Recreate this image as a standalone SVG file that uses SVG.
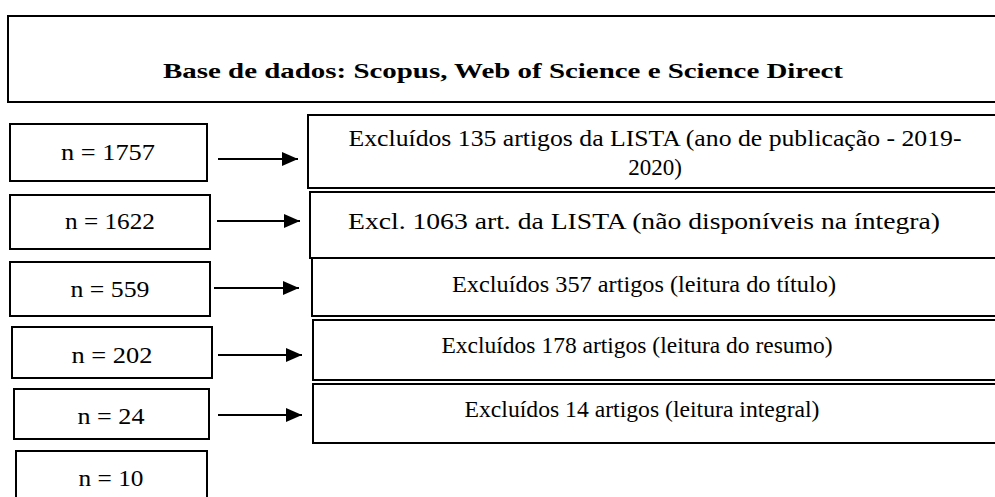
<svg xmlns="http://www.w3.org/2000/svg" width="995" height="497" viewBox="0 0 995 497">
<style>
  .box { fill: #ffffff; stroke: #000000; stroke-width: 2; }
  .t { font-family: "Liberation Serif", "DejaVu Serif", serif; font-size: 23px; fill: #000000; text-anchor: middle; }
  .title { font-family: "Liberation Serif", "DejaVu Serif", serif; font-size: 22px; font-weight: bold; fill: #000000; text-anchor: middle; }
  .conn { stroke: #000000; stroke-width: 2; fill: none; }
</style>
<defs>
  <marker id="ah" viewBox="0 0 16 14" refX="16" refY="7" markerWidth="16" markerHeight="14" markerUnits="userSpaceOnUse" orient="auto">
    <path d="M0,0 L16,7 L0,14 Z" fill="#000000"/>
  </marker>
</defs>
<rect width="995" height="497" fill="#ffffff"/>

<g id="title-box">
  <rect class="box" x="8" y="16" width="1000" height="86"/>
  <text class="title" x="503" y="78" textLength="680" lengthAdjust="spacingAndGlyphs">Base de dados: Scopus, Web of Science e Science Direct</text>
</g>

<g id="n1757">
  <rect class="box" x="10" y="124" width="197" height="57"/>
  <text class="t" x="108" y="160" textLength="94" lengthAdjust="spacingAndGlyphs">n = 1757</text>
</g>
<g id="n1622">
  <rect class="box" x="10" y="195" width="200" height="54"/>
  <text class="t" x="110" y="229" textLength="90" lengthAdjust="spacingAndGlyphs">n = 1622</text>
</g>
<g id="n559">
  <rect class="box" x="10" y="262" width="200" height="54"/>
  <text class="t" x="110" y="297" textLength="79" lengthAdjust="spacingAndGlyphs">n = 559</text>
</g>
<g id="n202">
  <rect class="box" x="12" y="327" width="200" height="51"/>
  <text class="t" x="112" y="363" textLength="81" lengthAdjust="spacingAndGlyphs">n = 202</text>
</g>
<g id="n24">
  <rect class="box" x="14" y="389" width="195" height="50"/>
  <text class="t" x="111" y="424" textLength="67" lengthAdjust="spacingAndGlyphs">n = 24</text>
</g>
<g id="n10">
  <rect class="box" x="16" y="451" width="191" height="60"/>
  <text class="t" x="111" y="486" textLength="65" lengthAdjust="spacingAndGlyphs">n = 10</text>
</g>

<g id="excl135">
  <rect class="box" x="308" y="115" width="700" height="73"/>
  <text class="t" x="655" y="146" textLength="613" lengthAdjust="spacingAndGlyphs">Excluídos 135 artigos da LISTA (ano de publicação - 2019-</text>
  <text class="t" x="655" y="175">2020)</text>
</g>
<g id="excl1063">
  <rect class="box" x="310" y="192" width="700" height="66"/>
  <text class="t" x="644" y="229" textLength="592" lengthAdjust="spacingAndGlyphs">Excl. 1063 art. da LISTA (não disponíveis na íntegra)</text>
</g>
<g id="excl357">
  <rect class="box" x="312" y="258" width="700" height="58"/>
  <text class="t" x="644" y="292" textLength="384" lengthAdjust="spacingAndGlyphs">Excluídos 357 artigos (leitura do título)</text>
</g>
<g id="excl178">
  <rect class="box" x="313" y="320" width="700" height="60"/>
  <text class="t" x="637" y="353" textLength="391" lengthAdjust="spacingAndGlyphs">Excluídos 178 artigos (leitura do resumo)</text>
</g>
<g id="excl14">
  <rect class="box" x="313" y="384" width="700" height="59"/>
  <text class="t" x="642" y="417" textLength="355" lengthAdjust="spacingAndGlyphs">Excluídos 14 artigos (leitura integral)</text>
</g>

<g id="connectors">
  <line class="conn" x1="218" y1="159" x2="298" y2="159" marker-end="url(#ah)"/>
  <line class="conn" x1="217" y1="221" x2="300" y2="221" marker-end="url(#ah)"/>
  <line class="conn" x1="214" y1="288" x2="299" y2="288" marker-end="url(#ah)"/>
  <line class="conn" x1="218" y1="355" x2="302" y2="355" marker-end="url(#ah)"/>
  <line class="conn" x1="218" y1="415" x2="302" y2="415" marker-end="url(#ah)"/>
</g>
</svg>
